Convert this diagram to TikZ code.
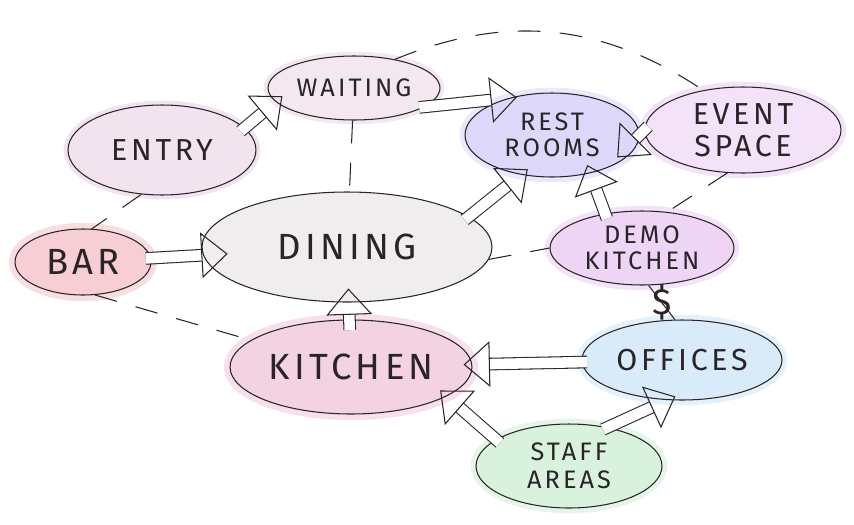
\documentclass[tikz,border=0pt]{standalone}
\usepackage{fontspec}
\setmainfont{Fira Sans}[LetterSpace=12]
\usetikzlibrary{shapes.geometric,arrows.meta,positioning,calc}
\definecolor{entrypink}{HTML}{F2E4EE}
\definecolor{waitpink}{HTML}{F4E8F0}
\definecolor{restblue}{HTML}{DDD8FA}
\definecolor{eventpurple}{HTML}{F3E2F8}
\definecolor{barred}{HTML}{F7CED4}
\definecolor{dinegrey}{HTML}{EFEDEE}
\definecolor{demopurple}{HTML}{EED5F5}
\definecolor{kitchenpink}{HTML}{F3D2E2}
\definecolor{officeblue}{HTML}{D9EBF8}
\definecolor{staffgreen}{HTML}{D8F2DD}
\definecolor{pen}{HTML}{2A2428}
\tikzset{
    room/.style={ellipse, draw=pen, semithick, inner sep=0pt, align=center, text=pen, font=\LARGE},
    roomE/.style={room, fill=entrypink, preaction={draw=entrypink, line width=5pt}},
    roomW/.style={room, fill=waitpink, preaction={draw=waitpink, line width=5pt}},
    roomR/.style={room, fill=restblue, preaction={draw=restblue!60, line width=6pt}},
    roomV/.style={room, fill=eventpurple, preaction={draw=eventpurple, line width=6pt}},
    roomB/.style={room, fill=barred, preaction={draw=barred!70, line width=7pt}},
    roomD/.style={room, fill=dinegrey},
    roomK/.style={room, fill=kitchenpink, preaction={draw=kitchenpink!70, line width=7pt}},
    roomM/.style={room, fill=demopurple, preaction={draw=demopurple!70, line width=6pt}},
    roomO/.style={room, fill=officeblue, preaction={draw=officeblue!70, line width=6pt}},
    roomS/.style={room, fill=staffgreen, preaction={draw=staffgreen!70, line width=6pt}},
    flow/.style={draw=pen, semithick, double=white, double distance=6pt,
        -{Triangle[open, length=15pt, width=26pt]}, shorten >=-5pt, shorten <=-3pt},
    link/.style={draw=pen, semithick, dash pattern=on 13pt off 11pt},
}

\begin{document}
\begin{tikzpicture}[x=0.02cm, y=-0.02cm]
    \useasboundingbox (0,0) rectangle (854,524);
    % Rooms
    \node[roomW, minimum width=3.44cm, minimum height=1.28cm, font=\Large] (waiting) at (354, 88) {WAITING};
    \node[roomE, minimum width=3.76cm, minimum height=1.8cm] (entry) at (162, 150) {ENTRY};
    \node[roomR, minimum width=3.48cm, minimum height=1.68cm, font=\Large] (rest) at (552, 135) {REST\\[-3pt]ROOMS};
    \node[roomV, minimum width=3.92cm, minimum height=1.72cm] (event) at (743, 130) {EVENT\\[-4pt]SPACE};
    \node[roomB, minimum width=2.72cm, minimum height=1.32cm, font=\huge] (bar) at (83, 262) {BAR};
    \node[roomD, minimum width=5.8cm, minimum height=2.2cm, font=\huge] (dining) at (347, 247) {DINING};
    \node[roomM, minimum width=3.68cm, minimum height=1.48cm, font=\Large] (demo) at (642, 248) {DEMO\\[-3pt]KITCHEN};
    \node[roomK, minimum width=4.84cm, minimum height=1.88cm, font=\huge] (kitchen) at (351, 367) {KITCHEN};
    \node[roomO, minimum width=4cm, minimum height=1.6cm] (offices) at (682, 360) {OFFICES};
    \node[roomS, minimum width=3.72cm, minimum height=1.68cm, font=\Large] (staff) at (569, 466) {STAFF\\[-2pt]AREAS};
    % Adjacencies
    \draw[link] (entry.-115) -- (bar.75);
    \draw[link] (waiting) -- (dining);
    \draw[link] (bar.-70) -- (kitchen.165);
    \draw[link] (dining.-5) -- (demo.180);
    \draw[link] (event.-110) -- (demo.55);
    \draw[link] (waiting.35) to[bend left=28] (event.135);
    \draw[pen, semithick] (demo.-80) -- node[font=\huge\addfontfeature{LetterSpace=0}, inner sep=0pt] {\$} (offices.100);
    % Flows
    \draw[flow] (entry.15) -- (waiting.190);
    \draw[flow] (waiting.-15) -- (rest.140);
    \draw[flow, shorten >=-18pt] (event.180) -- (rest.0);
    \draw[flow] (dining.14) -- (rest.-128);
    \draw[flow] (demo.137) -- (rest.-45);
    \draw[flow, shorten >=-14pt] (bar) -- (dining);
    \draw[flow, shorten >=-8pt, shorten <=-6pt] (kitchen) -- (dining);
    \draw[flow] (offices) -- (kitchen);
    \draw[flow] (staff.160) -- (kitchen.-17);
    \draw[flow] (staff.45) -- (offices.-110);
\end{tikzpicture}
\end{document}
